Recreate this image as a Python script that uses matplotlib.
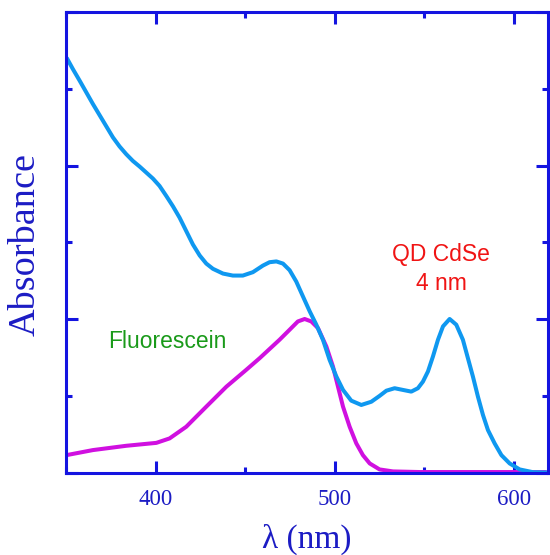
import matplotlib
matplotlib.use("Agg")
import matplotlib.pyplot as plt
from matplotlib.ticker import MultipleLocator

# QD CdSe (4 nm) absorbance
qd_wl = [350.5, 353.8, 357.6, 361.3, 365.0, 368.7, 372.5, 376.2, 379.9, 383.6,
         387.3, 391.1, 394.8, 398.5, 402.2, 406.0, 409.7, 413.4, 417.1, 420.8,
         424.6, 428.3, 432.0, 437.6, 443.1, 448.7, 454.3, 459.9, 463.6, 467.4,
         471.1, 474.8, 478.5, 482.2, 486.0, 489.7, 493.4, 497.1, 500.9, 504.6,
         509.2, 514.8, 520.4, 525.0, 528.8, 533.4, 538.0, 542.7, 546.4, 549.2,
         552.0, 554.8, 557.6, 560.4, 564.1, 567.8, 571.5, 574.3, 577.1, 579.9,
         582.7, 585.5, 589.2, 593.0, 597.6, 603.2, 610.6, 619.0]
qd_abs = [2.699, 2.629, 2.553, 2.477, 2.401, 2.329, 2.255, 2.183, 2.124, 2.074,
          2.030, 1.993, 1.954, 1.915, 1.867, 1.801, 1.734, 1.660, 1.573, 1.486,
          1.414, 1.361, 1.327, 1.296, 1.283, 1.283, 1.305, 1.348, 1.370, 1.375,
          1.361, 1.318, 1.244, 1.148, 1.050, 0.963, 0.865, 0.734, 0.625, 0.538,
          0.468, 0.440, 0.461, 0.499, 0.533, 0.549, 0.538, 0.527, 0.549, 0.592,
          0.658, 0.756, 0.865, 0.952, 1.000, 0.963, 0.865, 0.745, 0.625, 0.494,
          0.375, 0.276, 0.190, 0.113, 0.059, 0.020, 0.002, 0.000]

# Fluorescein absorbance
fl_wl = [350.2, 365.0, 383.6, 400.4, 407.8, 417.1, 428.3, 439.5, 450.6, 458.1,
         469.2, 474.8, 479.4, 483.2, 486.9, 490.6, 495.3, 499.0, 501.8, 504.6,
         508.3, 512.0, 515.7, 519.5, 525.0, 532.5, 547.4, 617.7]
fl_abs = [0.113, 0.146, 0.174, 0.193, 0.222, 0.298, 0.429, 0.559, 0.669, 0.745,
          0.865, 0.930, 0.984, 1.000, 0.984, 0.941, 0.821, 0.690, 0.559, 0.429,
          0.298, 0.190, 0.113, 0.059, 0.020, 0.007, 0.003, 0.003]

x_ticks = [400, 500, 600]
x_tick_labels = ["400", "500", "600"]

frame_c = "#1414E0"
text_c = "#1C1CC4"

fig = plt.figure(figsize=(5.5, 5.55), dpi=100)
ax = fig.add_axes([66/550, 1-472.5/555, (548-66)/550, (472.5-12)/555])

ax.plot(fl_wl, fl_abs, color="#D010E0", lw=2.9, solid_joinstyle="round", solid_capstyle="round")
ax.plot(qd_wl, qd_abs, color="#0F98F0", lw=2.9, solid_joinstyle="round", solid_capstyle="round")

ax.set_xlim(350, 619)
ax.set_ylim(0, 3.0)

ax.set_xticks(x_ticks)
ax.set_xticklabels(x_tick_labels)
ax.xaxis.set_minor_locator(MultipleLocator(50))
ax.yaxis.set_major_locator(MultipleLocator(1))
ax.yaxis.set_minor_locator(MultipleLocator(0.5))
ax.tick_params(which="both", direction="in", top=True, right=True, color=frame_c,
               width=2.2, labelleft=False)
ax.tick_params(which="major", length=8.5)
ax.tick_params(which="minor", length=4.5)
ax.tick_params(axis="x", which="major", pad=12, labelsize=16.5, labelcolor=text_c)
for lab in ax.get_xticklabels():
    lab.set_family("Liberation Serif")

for s in ax.spines.values():
    s.set_color(frame_c)
    s.set_linewidth(2.2)

fig.text(307/550, 1-539/555, "λ (nm)", ha="center", va="center",
         fontsize=24, color=text_c, family="Liberation Serif")
fig.text(25/550, 1-245/555, "Absorbance", ha="center", va="center", rotation=90,
         fontsize=27.5, color=text_c, family="Liberation Serif")

fig.text(167/550, 1-341/555, "Fluorescein", ha="center", va="center",
         fontsize=16.5, color="#1A9A1A", family="Liberation Sans")
fig.text(441/550, 1-254/555, "QD CdSe", ha="center", va="center",
         fontsize=16.5, color="#F01414", family="Liberation Sans")
fig.text(441/550, 1-284/555, "4 nm", ha="center", va="center",
         fontsize=16.5, color="#F01414", family="Liberation Sans")

fig.savefig("out.png", dpi=100)
